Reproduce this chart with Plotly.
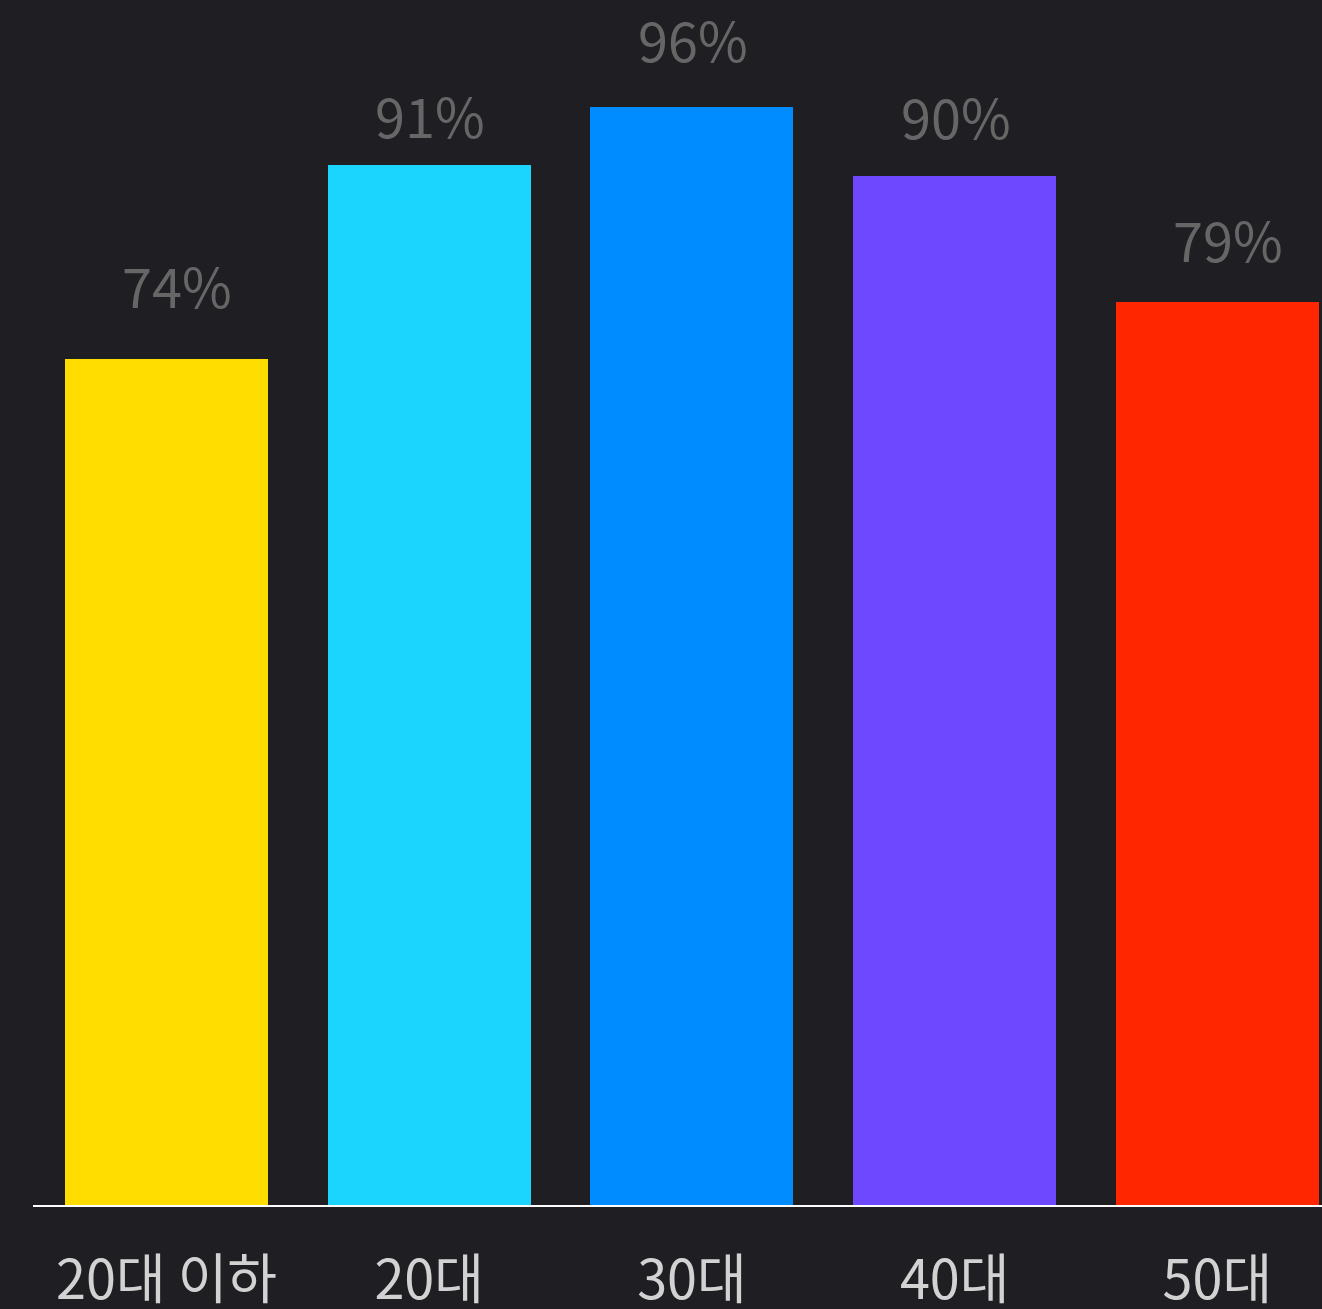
import plotly.graph_objects as go

categories = ["20대 이하", "20대", "30대", "40대", "50대"]
values = [74, 91, 96, 90, 79]
labels = ["74%", "91%", "96%", "90%", "79%"]
colors = ["#FFDD00", "#1CD5FF", "#008CFF", "#6E48FF", "#FF2600"]
label_xshift = [11, 1, 1, 1, 11]
label_yshift = [33, 9, 27, 19, 22]

BG = "#1f1f23"
FONT = "Noto Sans CJK KR, Noto Sans, sans-serif"

fig = go.Figure()
fig.add_trace(go.Bar(
    x=categories, y=values, marker=dict(color=colors, line=dict(width=0)),
    width=0.7726, hoverinfo="skip",
))

for c, v, t, dx, dy in zip(categories, values, labels, label_xshift, label_yshift):
    fig.add_annotation(
        x=c, y=v, text=t, showarrow=False, yanchor="bottom", xanchor="center",
        yshift=dy, xshift=dx,
        font=dict(family=FONT, size=54, color="#666666"),
    )

fig.update_layout(
    width=1322, height=1309,
    paper_bgcolor=BG, plot_bgcolor=BG,
    margin=dict(l=33, r=0, t=0, b=104, autoexpand=False),
    showlegend=False,
    bargap=0,
    xaxis=dict(
        range=[-0.508, 4.398], showgrid=False, zeroline=False,
        showline=True, linecolor="#ffffff", linewidth=2,
        ticks="outside", ticklen=27, tickcolor=BG,
        tickfont=dict(family=FONT, size=54, color="#d2d2d2"),
        automargin=False, fixedrange=True,
    ),
    yaxis=dict(
        range=[0, 105.4], showgrid=False, zeroline=False, showline=False,
        showticklabels=False, automargin=False, fixedrange=True,
    ),
)

fig.write_html(
    "out.html",
    config={"displayModeBar": False},
    post_script="document.body.style.margin='0';document.body.style.overflow='hidden';document.body.style.background='" + BG + "';",
)
